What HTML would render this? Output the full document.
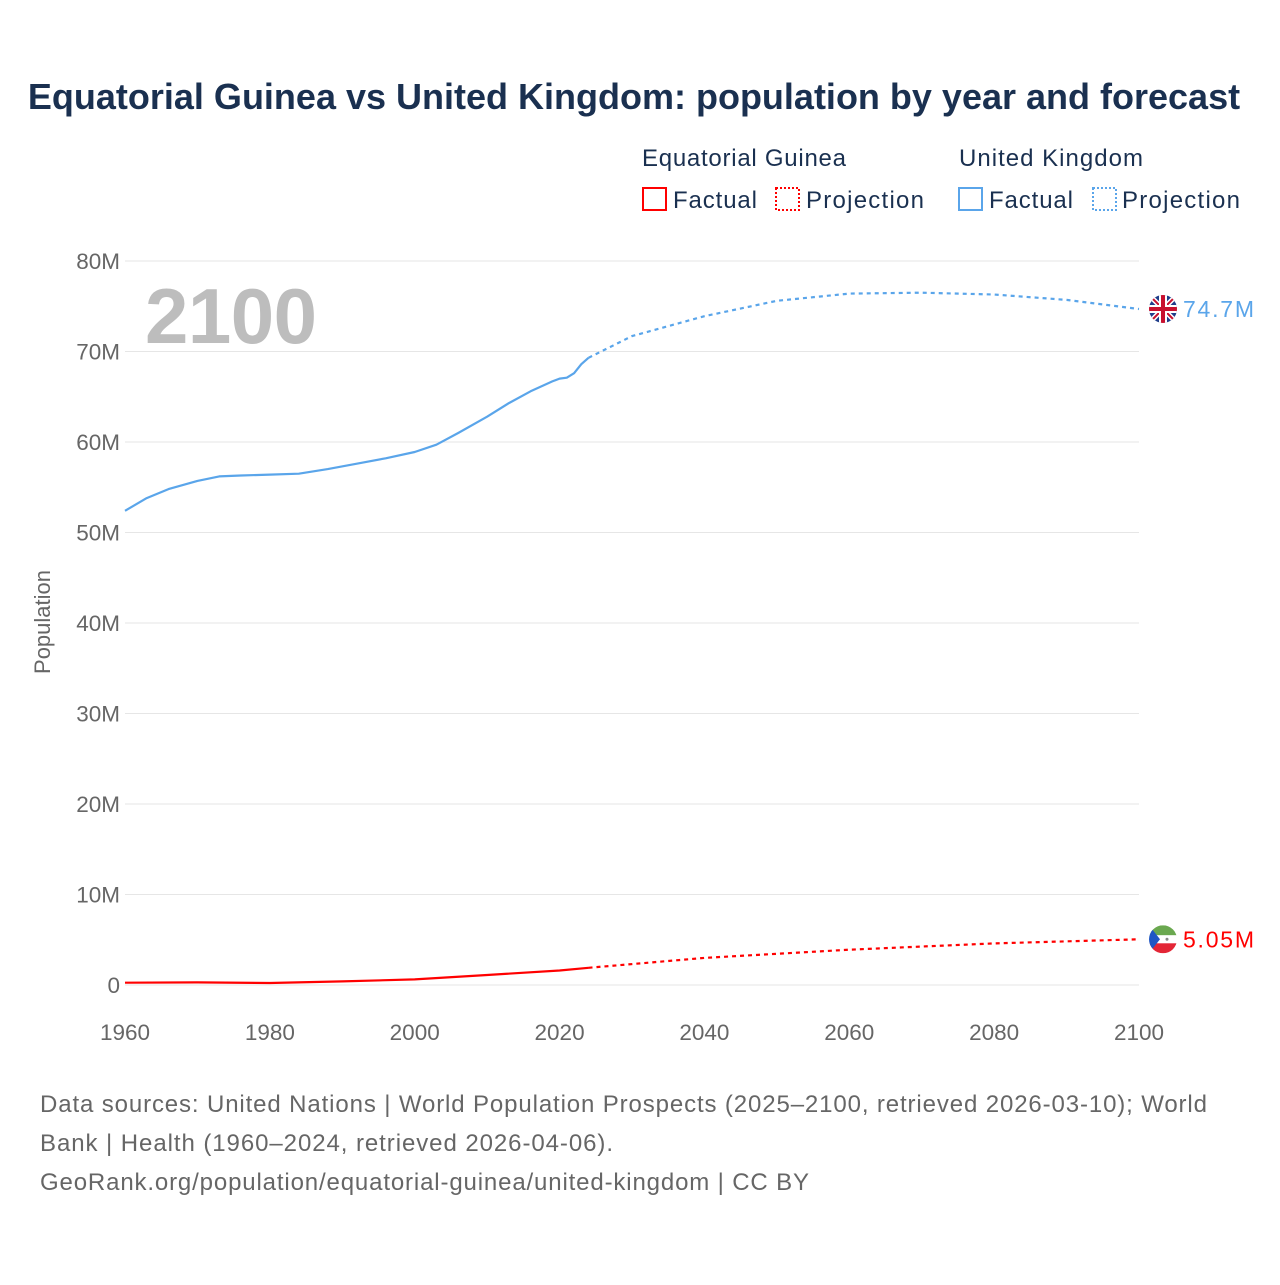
<!DOCTYPE html>
<html><head><meta charset="utf-8"><style>
body{margin:0;background:#fff;font-family:"Liberation Sans",sans-serif}
svg text{font-family:"Liberation Sans",sans-serif}
</style></head><body>
<svg id="chart" width="1280" height="1280" xmlns="http://www.w3.org/2000/svg">
<text x="634" y="109" text-anchor="middle" font-size="36" font-weight="bold" fill="#1a3050">Equatorial Guinea vs United Kingdom: population by year and forecast</text>
<g font-size="24" fill="#1a3050">
<text x="642" y="166" textLength="204">Equatorial Guinea</text>
<text x="959" y="166" textLength="184">United Kingdom</text>
<g><rect x="643" y="188" width="23" height="22" fill="none" stroke="#f00" stroke-width="2"/><text x="673" y="208" textLength="84">Factual</text></g>
<g><rect x="776" y="188" width="23" height="22" fill="none" stroke="#f00" stroke-width="2" stroke-dasharray="2,2"/><text x="806" y="208" textLength="118">Projection</text></g>
<g><rect x="959" y="188" width="23" height="22" fill="none" stroke="#5aa5ea" stroke-width="2"/><text x="989" y="208" textLength="84">Factual</text></g>
<g><rect x="1093" y="188" width="23" height="22" fill="none" stroke="#5aa5ea" stroke-width="2" stroke-dasharray="2,2"/><text x="1122" y="208" textLength="118">Projection</text></g>
</g>
<text x="145" y="343" font-size="78" font-weight="bold" fill="#bdbdbd" textLength="172">2100</text>
<text transform="translate(50,622) rotate(-90)" text-anchor="middle" font-size="22" fill="#666">Population</text>
<g id="grid"></g><g id="series"></g>
<g font-size="24" fill="#666">
<text x="40" y="1112" textLength="1167">Data sources: United Nations | World Population Prospects (2025–2100, retrieved 2026-03-10); World</text>
<text x="40" y="1151" textLength="573">Bank | Health (1960–2024, retrieved 2026-04-06).</text>
<text x="40" y="1190" textLength="769">GeoRank.org/population/equatorial-guinea/united-kingdom | CC BY</text>
</g>
</svg>
<script>
const yTicks=[0,10,20,30,40,50,60,70,80];
const yTickLabels=["0","10M","20M","30M","40M","50M","60M","70M","80M"];
const xTicks=[1960,1980,2000,2020,2040,2060,2080,2100];
const ukYears=[1960,1963,1966,1970,1973,1976,1980,1984,1988,1992,1996,2000,2003,2006,2010,2013,2016,2019,2020,2021,2022,2023,2024];
const ukValues=[52.4,53.8,54.8,55.7,56.2,56.3,56.4,56.5,57.0,57.6,58.2,58.9,59.7,61.0,62.8,64.3,65.6,66.7,67.0,67.1,67.6,68.6,69.3];
const ukProjYears=[2024,2030,2040,2050,2060,2070,2080,2090,2100];
const ukProjValues=[69.3,71.7,73.9,75.6,76.4,76.5,76.3,75.7,74.7];
const egYears=[1960,1970,1980,1990,2000,2010,2020,2024];
const egValues=[0.25,0.29,0.22,0.40,0.62,1.1,1.6,1.9];
const egProjYears=[2024,2040,2060,2080,2100];
const egProjValues=[1.9,3.0,3.9,4.6,5.05];
const NS="http://www.w3.org/2000/svg";
const x=v=>125+(v-1960)*(1139-125)/140;
const y=v=>985-v*(985-261)/80;
function mk(t,a,p){const e=document.createElementNS(NS,t);for(const k in a)e.setAttribute(k,a[k]);p.appendChild(e);return e;}
const grid=document.getElementById('grid');
yTicks.forEach((t,i)=>{
 const l=mk('line',{x1:125,x2:1139,y1:y(t),y2:y(t),stroke:'#e6e6e6','stroke-width':1},grid);
 
 
 const tx=mk('text',{x:120,y:y(t)+8,'text-anchor':'end','font-size':22.5,fill:'#666'},grid);
 tx.textContent=yTickLabels[i];
 
 
});
xTicks.forEach(t=>{
 const tx=mk('text',{x:x(t),y:1040,'text-anchor':'middle','font-size':22.5,fill:'#666'},grid);
 tx.textContent=t;
 
 
});
const s=document.getElementById('series');
function line(xs,vs,c,dash,name){
 const p=mk('path',{d:xs.map((a,i)=>(i?'L':'M')+x(a).toFixed(1)+','+y(vs[i]).toFixed(1)).join(''),fill:'none',stroke:c,'stroke-width':2.2,'stroke-dasharray':dash||'none','stroke-linejoin':'round'},s);
 
 
}
line(ukYears,ukValues,'#5aa5ea',null,'uk-factual-line');
line(ukProjYears,ukProjValues,'#5aa5ea','4,4','uk-projection-line');
line(egYears,egValues,'#f00',null,'eg-factual-line');
line(egProjYears,egProjValues,'#f00','4,4','eg-projection-line');
function endLabel(v,c,txt,name,flag){
 const g=mk('g',{},s);
 
 
 const cx=1163,cy=y(v);
 g.innerHTML=flag(cx,cy);
 const t=mk('text',{x:1183,y:cy+8,'font-size':23,fill:c,textLength:txt.length>4?71:70},g);t.textContent=txt;
}
endLabel(ukProjValues[ukProjValues.length-1],'#5aa5ea','74.7M','uk-end-label',(cx,cy)=>`<clipPath id="cu"><circle cx="${cx}" cy="${cy}" r="14"/></clipPath><g clip-path="url(#cu)"><rect x="${cx-14}" y="${cy-14}" width="28" height="28" fill="#1f3d8a"/><path d="M${cx-14},${cy-14}L${cx+14},${cy+14}M${cx+14},${cy-14}L${cx-14},${cy+14}" stroke="#fff" stroke-width="5"/><path d="M${cx-14},${cy-14}L${cx+14},${cy+14}M${cx+14},${cy-14}L${cx-14},${cy+14}" stroke="#c8102e" stroke-width="2"/><path d="M${cx},${cy-14}V${cy+14}M${cx-14},${cy}H${cx+14}" stroke="#fff" stroke-width="8"/><path d="M${cx},${cy-14}V${cy+14}M${cx-14},${cy}H${cx+14}" stroke="#c8102e" stroke-width="4"/></g>`);
endLabel(egProjValues[egProjValues.length-1],'#f00','5.05M','eg-end-label',(cx,cy)=>`<clipPath id="ce"><circle cx="${cx}" cy="${cy}" r="14"/></clipPath><g clip-path="url(#ce)"><rect x="${cx-14}" y="${cy-14}" width="28" height="10" fill="#6aa84f"/><rect x="${cx-14}" y="${cy-4}" width="28" height="8" fill="#fff"/><rect x="${cx-14}" y="${cy+4}" width="28" height="10" fill="#e32636"/><path d="M${cx-14},${cy-14}L${cx-3},${cy}L${cx-14},${cy+14}Z" fill="#1f57c4"/><circle cx="${cx+4}" cy="${cy}" r="1.5" fill="#888"/></g>`);
</script>
</body></html>
